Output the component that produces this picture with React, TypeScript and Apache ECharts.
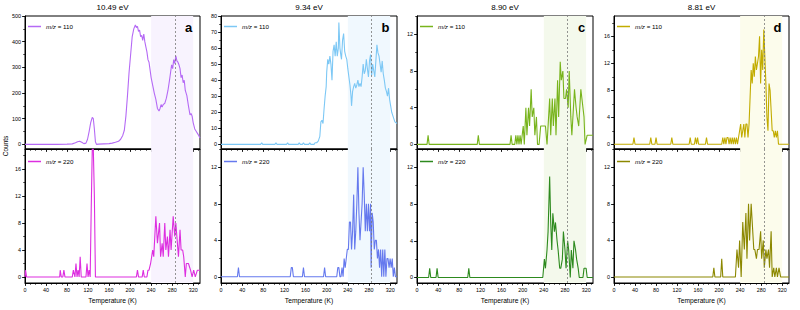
import React, { useEffect, useRef } from "react";
import * as echarts from "echarts";

// ---------- data ----------
const TEMP_TICKS = [0, 40, 80, 120, 160, 200, 240, 280, 320];
const TITLES = ["10.49 eV", "9.34 eV", "8.90 eV", "8.81 eV"];
const LETTERS = ["a", "b", "c", "d"];
const MASSES = ["110", "220"];
const SHADE_RANGE = [240, 320];
const DASH_T = 285;

const Y_TICKS_A110 = [0, 100, 200, 300, 400, 500];
const Y_TICKS_B110 = [0, 10, 20, 30, 40, 50, 60, 70, 80];
const Y_TICKS_16 = [0, 4, 8, 12, 16];
const Y_TICKS_12 = [0, 4, 8, 12];

const A110 = [[0,0],[20,0],[40,0],[60,0],[80,1],[90,2],[96,6],[100,10],[104,12],[108,8],[112,3],[116,5],[119,20],[122,50],[125,85],[128,105],[130,100],[132,60],[134,10],[136,0],[140,1],[150,2],[160,3],[166,5],[172,8],[178,12],[182,20],[186,35],[189,55],[192,110],[195,190],[198,280],[201,350],[204,420],[207,450],[210,465],[212,455],[214,460],[216,440],[218,445],[220,420],[222,425],[224,405],[226,430],[228,400],[230,380],[232,360],[234,330],[236,320],[238,290],[240,260],[243,230],[246,200],[249,175],[252,140],[255,130],[257,140],[259,155],[261,145],[263,155],[266,160],[269,180],[272,210],[275,250],[277,280],[279,310],[281,295],[283,330],[285,315],[287,345],[289,325],[291,320],[293,310],[295,295],[297,260],[299,270],[301,240],[303,250],[305,210],[308,190],[311,150],[314,115],[316,120],[318,110],[320,85],[323,60],[326,50],[329,40],[333,25]];
const A220 = [[0,0],[1,1],[3,0],[66,0],[67,1],[69,0],[72,0],[74,1],[76,0],[90,0],[92,1],[95,0],[97,2],[99,0],[101,1],[103,0],[105,3],[107,0],[116,0],[118,2],[120,0],[122,1],[124,0],[126,10],[128,19],[130,19],[132,12],[134,0],[212,0],[214,1],[216,0],[223,0],[225,1],[227,0],[232,0],[234,1],[236,1],[239,2],[243,4],[245,3],[249,9],[252,5],[256,8],[258,3],[261,5],[263,3],[266,8],[268,4],[271,6],[273,3],[276,7],[278,4],[282,9],[285,6],[287,8],[290,5],[292,3],[295,7],[297,4],[300,4],[302,3],[305,0],[307,2],[311,2],[315,1],[318,0],[321,1],[324,0],[328,1],[333,1]];
const B110 = [[0,0],[30,0],[60,0],[75,0],[77,1],[79,0],[102,0],[104,1],[106,0],[124,0],[126,1],[128,0],[146,0],[148,1],[150,0],[154,0],[156,1],[158,0],[166,0],[168,1],[170,0],[176,0],[178,1],[181,1],[184,2],[187,5],[189,14],[191,15],[193,13],[195,22],[197,30],[199,36],[200,45],[202,53],[204,50],[206,55],[208,50],[210,40],[212,58],[214,62],[216,55],[218,64],[220,55],[222,60],[223,76],[225,60],[227,55],[228,53],[230,65],[232,69],[234,58],[236,55],[238,53],[240,47],[242,42],[244,37],[246,30],[247,24],[249,33],[251,36],[253,38],[255,35],[257,37],[259,40],[261,36],[263,38],[265,36],[267,42],[269,50],[271,44],[273,46],[275,53],[277,47],[279,42],[281,52],[283,56],[285,43],[287,50],[289,46],[291,42],[293,52],[295,62],[297,57],[299,55],[301,50],[303,45],[305,52],[307,44],[309,40],[311,35],[313,33],[315,30],[317,35],[319,28],[321,24],[323,20],[326,17],[329,14],[333,13]];
const B220 = [[0,0],[31,0],[33,1],[35,0],[131,0],[133,1],[135,1],[137,0],[154,0],[156,1],[158,0],[194,0],[196,1],[198,0],[219,0],[221,1],[223,1],[225,0],[227,0],[229,1],[231,0],[233,2],[235,1],[237,2],[239,3],[241,3],[243,6],[245,6],[247,3],[249,5],[251,9],[253,3],[255,5],[257,8],[259,12],[261,7],[263,4],[265,6],[267,8],[269,12],[271,9],[273,5],[275,8],[277,5],[279,8],[281,5],[283,8],[284,1],[286,7],[288,6],[290,3],[292,4],[294,4],[296,2],[298,3],[300,1],[302,3],[304,0],[306,3],[308,0],[310,3],[312,0],[314,2],[316,2],[318,1],[320,2],[322,1],[324,2],[326,0],[328,1],[330,0],[333,0]];
const C110 = [[0,0],[19,0],[21,1],[23,0],[114,0],[116,1],[118,0],[176,0],[178,1],[180,0],[185,0],[187,1],[189,0],[191,1],[193,0],[195,1],[197,0],[199,1],[201,2],[203,0],[206,4],[208,1],[211,4],[213,2],[216,6],[218,3],[221,4],[223,1],[226,3],[228,0],[231,0],[234,2],[240,2],[243,2],[246,0],[251,5],[253,1],[256,5],[258,2],[261,5],[263,1],[266,7],[268,3],[271,9],[273,7],[276,8],[278,5],[281,5],[283,6],[286,4],[288,8],[291,3],[293,1],[296,4],[298,6],[301,4],[303,3],[306,2],[310,6],[312,5],[316,3],[318,0],[322,1],[333,1]];
const C220 = [[0,0],[22,0],[24,1],[26,0],[36,0],[38,1],[40,0],[96,0],[98,1],[100,0],[238,0],[241,2],[243,1],[246,3],[248,5],[251,11],[253,6],[255,3],[257,7],[260,5],[262,6],[265,4],[267,3],[270,1],[272,1],[275,2],[277,5],[280,3],[282,1],[285,4],[287,3],[290,0],[292,3],[295,1],[297,4],[300,3],[302,2],[305,1],[307,0],[314,0],[316,1],[320,1],[322,0],[333,0]];
const D110 = [[0,0],[36,0],[38,1],[40,0],[68,0],[70,1],[72,0],[78,0],[80,1],[82,0],[108,0],[110,1],[112,0],[143,0],[145,1],[147,0],[153,0],[155,1],[157,0],[159,1],[161,0],[174,0],[176,1],[178,0],[205,0],[207,1],[209,0],[211,1],[213,0],[215,1],[217,1],[219,0],[221,1],[223,0],[225,1],[227,0],[229,1],[231,0],[233,1],[235,0],[237,1],[239,2],[241,3],[243,1],[245,2],[247,3],[249,1],[251,3],[253,3],[255,1],[257,3],[259,7],[261,11],[263,9],[265,12],[267,10],[269,13],[271,11],[273,12],[275,13],[277,16],[279,9],[281,14],[283,11],[285,17],[287,13],[289,9],[291,4],[293,2],[295,9],[297,8],[299,5],[301,2],[303,2],[305,1],[307,2],[309,1],[311,2],[313,0],[333,0]];
const D220 = [[0,0],[188,0],[190,1],[192,0],[203,0],[205,2],[207,0],[231,0],[234,3],[237,1],[239,4],[242,0],[245,6],[248,3],[251,7],[253,2],[256,8],[258,4],[261,8],[263,6],[266,3],[268,3],[271,2],[273,3],[276,3],[279,5],[281,2],[284,4],[286,1],[289,3],[291,2],[294,3],[296,1],[299,5],[301,0],[304,1],[306,0],[309,1],[311,0],[314,1],[317,0],[333,0]];

// ---------- layout / style ----------
const T_MAX = 333;
const FONT = "Liberation Sans, Arial, sans-serif";
const PANELS = [
  { left: 25, width: 175, shade: "#F8F3FE",
    top: { data: A110, color: "#B56AF5", min: -18, max: 500, ticks: Y_TICKS_A110, minor: 50 },
    bottom: { data: A220, color: "#DD2EE0", min: -0.9, max: 19, ticks: Y_TICKS_16, minor: 2 } },
  { left: 221, width: 176, shade: "#F0F8FE",
    top: { data: B110, color: "#7DC8F5", min: -2.9, max: 80, ticks: Y_TICKS_B110, minor: 5 },
    bottom: { data: B220, color: "#6579EE", min: -0.68, max: 14, ticks: Y_TICKS_12, minor: 2 } },
  { left: 417, width: 176, shade: "#F4F9EC",
    top: { data: C110, color: "#78B41C", min: -0.5, max: 14, ticks: Y_TICKS_12, minor: 2 },
    bottom: { data: C220, color: "#2D8A1E", min: -0.6, max: 14, ticks: Y_TICKS_12, minor: 2 } },
  { left: 614, width: 175, shade: "#FCFCEC",
    top: { data: D110, color: "#C2AC00", min: -0.7, max: 19, ticks: Y_TICKS_16, minor: 2 },
    bottom: { data: D220, color: "#8C8800", min: -0.66, max: 14, ticks: Y_TICKS_12, minor: 2 } },
];

function range(start: number, end: number, step: number) {
  const out: number[] = [];
  for (let v = start; v <= end + 1e-9; v += step) out.push(Math.round(v * 1000) / 1000);
  return out;
}

function buildOption() {
  const grids: any[] = [];
  const xAxes: any[] = [];
  const yAxes: any[] = [];
  const series: any[] = [];
  const legends: any[] = [];
  const graphics: any[] = [];
  const minorT = range(0, 330, 10);

  PANELS.forEach((p, i) => {
    [p.top, p.bottom].forEach((s, j) => {
      const g = grids.length;
      const isBottom = j === 1;
      grids.push({
        left: p.left, width: p.width,
        top: isBottom ? 149 : 16, height: isBottom ? 134 : 133,
        show: true, borderColor: "#000", borderWidth: 1,
      });
      xAxes.push({
        type: "value", gridIndex: g, position: "bottom", min: 0, max: T_MAX,
        axisLine: { show: true, onZero: false, lineStyle: { color: "#000", width: 1 } },
        axisTick: { show: true, length: 3, customValues: TEMP_TICKS, lineStyle: { color: "#000", width: 0.8 } },
        axisLabel: { show: isBottom, customValues: TEMP_TICKS, fontSize: 5.4, color: "#000", margin: 4, fontFamily: FONT },
        splitLine: { show: false },
        name: isBottom ? "Temperature (K)" : "",
        nameLocation: "middle", nameGap: 14,
        nameTextStyle: { fontSize: 6.7, color: "#000", fontFamily: FONT },
      });
      xAxes.push({
        type: "value", gridIndex: g, position: "bottom", min: 0, max: T_MAX,
        axisLine: { show: false, onZero: false },
        axisTick: { show: true, length: 1.8, customValues: minorT, lineStyle: { color: "#000", width: 0.7 } },
        axisLabel: { show: false }, splitLine: { show: false },
      });
      yAxes.push({
        type: "value", gridIndex: g, position: "left", min: s.min, max: s.max,
        axisLine: { show: true, onZero: false, lineStyle: { color: "#000", width: 1 } },
        axisTick: { show: true, length: 3, customValues: s.ticks, lineStyle: { color: "#000", width: 0.8 } },
        axisLabel: { show: true, customValues: s.ticks, fontSize: 5.4, color: "#000", margin: 4, fontFamily: FONT },
        splitLine: { show: false },
      });
      yAxes.push({
        type: "value", gridIndex: g, position: "left", min: s.min, max: s.max,
        axisLine: { show: false, onZero: false },
        axisTick: { show: true, length: 1.8, customValues: range(0, s.max, s.minor), lineStyle: { color: "#000", width: 0.7 } },
        axisLabel: { show: false }, splitLine: { show: false },
      });
      const name = LETTERS[i] + MASSES[j];
      series.push({
        name, type: "line", xAxisIndex: 2 * g, yAxisIndex: 2 * g,
        data: s.data, showSymbol: false, symbol: "none",
        lineStyle: { color: s.color, width: 1.1 }, itemStyle: { color: s.color },
        emphasis: { disabled: true },
        markArea: {
          silent: true, itemStyle: { color: p.shade },
          data: [[{ xAxis: SHADE_RANGE[0] }, { xAxis: SHADE_RANGE[1] }]],
        },
        markLine: {
          silent: true, symbol: "none", label: { show: false },
          lineStyle: { color: "#7a7a7a", type: [2, 2], width: 0.8 },
          data: [{ xAxis: DASH_T }],
        },
      });
      legends.push({
        left: p.left + 3, top: isBottom ? 158.5 : 23.5, padding: 0,
        data: [name], selectedMode: false, icon: "rect", itemWidth: 13, itemHeight: 1.5,
        formatter: (n: string) => "{i|m/z} = " + n.slice(1),
        textStyle: {
          fontSize: 6.2, color: "#000", fontFamily: FONT,
          rich: { i: { fontStyle: "italic", fontSize: 6.2, color: "#000", fontFamily: FONT } },
        },
      });
    });
    graphics.push({
      type: "text", x: p.left + p.width / 2, y: 7, z: 100,
      style: { text: TITLES[i], fontSize: 8, fontFamily: FONT, fill: "#000", align: "center", verticalAlign: "middle", textAlign: "center", textVerticalAlign: "middle" },
    });
    graphics.push({
      type: "text", x: p.left + p.width - 11.5, y: 27, z: 100,
      style: { text: LETTERS[i], fontSize: 13, fontWeight: "bold", fontFamily: FONT, fill: "#000", align: "center", verticalAlign: "middle", textAlign: "center", textVerticalAlign: "middle" },
    });
  });
  graphics.push({
    type: "text", x: 5, y: 146, rotation: Math.PI / 2, z: 100,
    style: { text: "Counts", fontSize: 6.5, fontFamily: FONT, fill: "#000", align: "center", verticalAlign: "middle", textAlign: "center", textVerticalAlign: "middle" },
  });

  return {
    animation: false,
    backgroundColor: "#fff",
    textStyle: { fontFamily: FONT },
    grid: grids, xAxis: xAxes, yAxis: yAxes, series, legend: legends, graphic: graphics,
  };
}

export default function App() {
  const ref = useRef<HTMLDivElement>(null);
  useEffect(() => {
    if (!ref.current) return;
    const chart = echarts.init(ref.current, null, { renderer: "svg" });
    chart.setOption(buildOption() as any);
    return () => chart.dispose();
  }, []);
  return (
    <div
      ref={ref}
      style={{ position: "fixed", left: 0, top: 0, width: 800, height: 310, background: "#fff" }}
    />
  );
}
